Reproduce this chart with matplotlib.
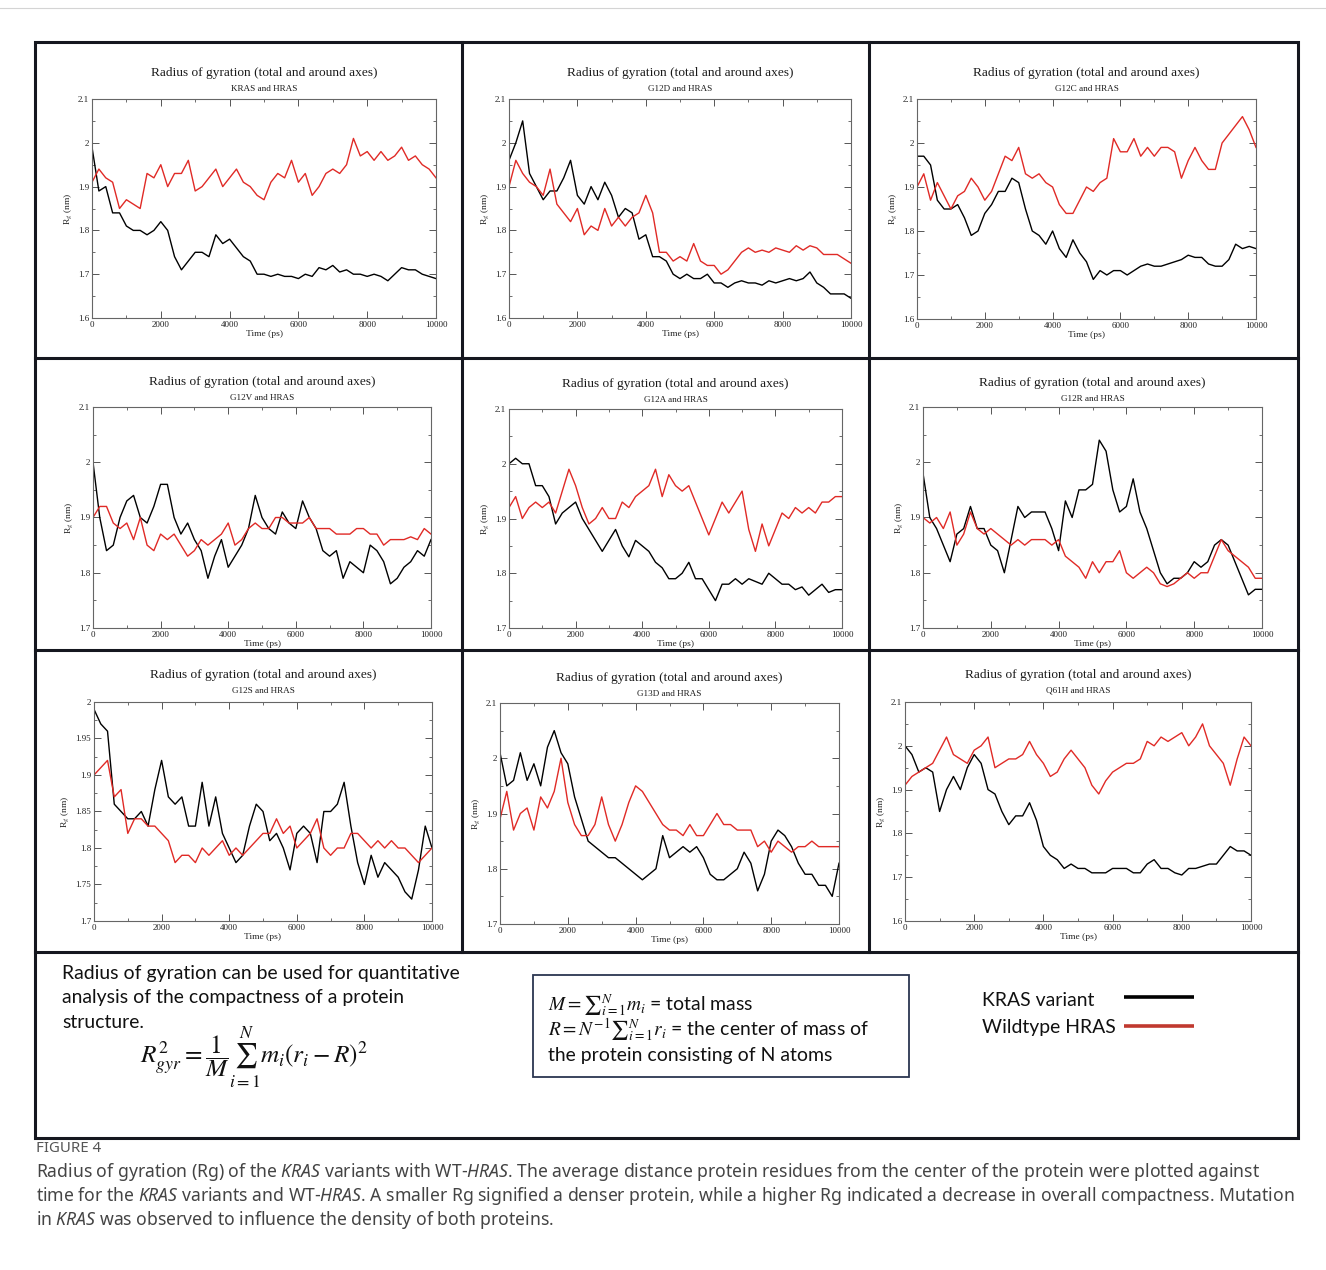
#!/usr/bin/env python3
'''
Radius of gyration of KRAS variants against wildtype HRAS (3x3 panel figure).
'''
import numpy as np
import matplotlib
matplotlib.use('Agg')
import matplotlib.pyplot as plt
from matplotlib.patches import Rectangle
from matplotlib.ticker import MultipleLocator, FuncFormatter

# sample times (ps), one value every 200 ps
time_ps = np.arange(0, 10001, 200)

variant_names = ['KRAS', 'G12D', 'G12C', 'G12V', 'G12A', 'G12R', 'G12S', 'G13D', 'Q61H']

# Rg (nm): KRAS variant (black) and wildtype HRAS (red)
kras_rg = [1.99, 1.89, 1.90, 1.84, 1.84, 1.81, 1.80, 1.80, 1.79, 1.80,
           1.82, 1.80, 1.74, 1.71, 1.73, 1.75, 1.75, 1.74, 1.79, 1.77,
           1.78, 1.76, 1.74, 1.73, 1.70, 1.70, 1.695, 1.70, 1.695, 1.695,
           1.69, 1.70, 1.695, 1.715, 1.71, 1.72, 1.705, 1.71, 1.70, 1.70,
           1.695, 1.70, 1.695, 1.685, 1.70, 1.715, 1.71, 1.71, 1.70, 1.695,
           1.69]
kras_hras_rg = [1.91, 1.94, 1.92, 1.91, 1.85, 1.87, 1.86, 1.85, 1.93, 1.92,
                1.95, 1.90, 1.93, 1.93, 1.96, 1.89, 1.90, 1.92, 1.94, 1.90,
                1.92, 1.94, 1.91, 1.90, 1.88, 1.87, 1.91, 1.93, 1.92, 1.96,
                1.91, 1.93, 1.88, 1.90, 1.93, 1.94, 1.93, 1.95, 2.01, 1.97,
                1.98, 1.96, 1.98, 1.96, 1.97, 1.99, 1.96, 1.97, 1.95, 1.94,
                1.92]

g12d_rg = [1.96, 2.00, 2.05, 1.93, 1.90, 1.87, 1.89, 1.89, 1.92, 1.96,
           1.88, 1.86, 1.90, 1.87, 1.91, 1.88, 1.83, 1.85, 1.84, 1.78,
           1.79, 1.74, 1.74, 1.73, 1.70, 1.69, 1.70, 1.69, 1.69, 1.70,
           1.68, 1.68, 1.67, 1.68, 1.685, 1.68, 1.68, 1.675, 1.685, 1.68,
           1.685, 1.69, 1.685, 1.69, 1.705, 1.68, 1.67, 1.655, 1.655, 1.655,
           1.645]
g12d_hras_rg = [1.90, 1.96, 1.93, 1.91, 1.90, 1.88, 1.94, 1.86, 1.84, 1.82,
                1.85, 1.79, 1.81, 1.80, 1.85, 1.81, 1.83, 1.81, 1.83, 1.84,
                1.88, 1.84, 1.75, 1.75, 1.73, 1.74, 1.73, 1.77, 1.73, 1.72,
                1.72, 1.70, 1.71, 1.73, 1.75, 1.76, 1.75, 1.755, 1.75, 1.76,
                1.755, 1.75, 1.765, 1.755, 1.765, 1.76, 1.745, 1.745, 1.745, 1.735,
                1.725]

g12c_rg = [1.97, 1.97, 1.95, 1.87, 1.85, 1.85, 1.86, 1.83, 1.79, 1.80,
           1.84, 1.86, 1.89, 1.89, 1.92, 1.91, 1.85, 1.80, 1.79, 1.77,
           1.80, 1.76, 1.74, 1.78, 1.75, 1.73, 1.69, 1.71, 1.70, 1.71,
           1.71, 1.70, 1.71, 1.72, 1.725, 1.72, 1.72, 1.725, 1.73, 1.735,
           1.745, 1.74, 1.74, 1.725, 1.72, 1.72, 1.735, 1.77, 1.76, 1.765,
           1.76]
g12c_hras_rg = [1.90, 1.93, 1.87, 1.91, 1.88, 1.85, 1.88, 1.89, 1.92, 1.90,
                1.87, 1.89, 1.93, 1.97, 1.96, 1.99, 1.93, 1.92, 1.93, 1.91,
                1.90, 1.86, 1.84, 1.84, 1.87, 1.90, 1.89, 1.91, 1.92, 2.01,
                1.98, 1.98, 2.01, 1.97, 1.99, 1.97, 1.99, 1.99, 1.98, 1.92,
                1.96, 1.99, 1.96, 1.94, 1.94, 2.00, 2.02, 2.04, 2.06, 2.03,
                1.99]

g12v_rg = [2.00, 1.90, 1.84, 1.85, 1.90, 1.93, 1.94, 1.90, 1.89, 1.92,
           1.96, 1.96, 1.90, 1.87, 1.89, 1.86, 1.84, 1.79, 1.83, 1.86,
           1.81, 1.83, 1.85, 1.88, 1.94, 1.90, 1.88, 1.87, 1.91, 1.89,
           1.88, 1.93, 1.90, 1.88, 1.84, 1.83, 1.84, 1.79, 1.82, 1.81,
           1.80, 1.85, 1.84, 1.82, 1.78, 1.79, 1.81, 1.82, 1.84, 1.83,
           1.86]
g12v_hras_rg = [1.90, 1.92, 1.92, 1.89, 1.88, 1.89, 1.86, 1.90, 1.85, 1.84,
                1.87, 1.86, 1.87, 1.85, 1.83, 1.84, 1.86, 1.85, 1.86, 1.87,
                1.89, 1.85, 1.86, 1.88, 1.89, 1.88, 1.88, 1.90, 1.90, 1.89,
                1.89, 1.89, 1.90, 1.88, 1.88, 1.88, 1.87, 1.87, 1.87, 1.88,
                1.88, 1.87, 1.87, 1.85, 1.86, 1.86, 1.86, 1.865, 1.86, 1.88,
                1.87]

g12a_rg = [2.00, 2.01, 2.00, 2.00, 1.96, 1.96, 1.94, 1.89, 1.91, 1.92,
           1.93, 1.90, 1.88, 1.86, 1.84, 1.86, 1.88, 1.85, 1.83, 1.86,
           1.85, 1.84, 1.82, 1.81, 1.79, 1.79, 1.80, 1.82, 1.79, 1.79,
           1.77, 1.75, 1.78, 1.78, 1.79, 1.78, 1.79, 1.785, 1.78, 1.80,
           1.79, 1.78, 1.78, 1.77, 1.775, 1.76, 1.77, 1.78, 1.765, 1.77,
           1.77]
g12a_hras_rg = [1.92, 1.94, 1.90, 1.92, 1.93, 1.92, 1.93, 1.91, 1.95, 1.99,
                1.96, 1.92, 1.89, 1.90, 1.92, 1.90, 1.90, 1.93, 1.92, 1.94,
                1.95, 1.96, 1.99, 1.94, 1.98, 1.96, 1.95, 1.96, 1.93, 1.90,
                1.87, 1.90, 1.93, 1.91, 1.93, 1.95, 1.88, 1.84, 1.89, 1.85,
                1.88, 1.91, 1.90, 1.92, 1.91, 1.92, 1.91, 1.93, 1.93, 1.94,
                1.94]

g12r_rg = [1.98, 1.90, 1.88, 1.85, 1.82, 1.87, 1.88, 1.92, 1.88, 1.88,
           1.85, 1.84, 1.80, 1.86, 1.92, 1.90, 1.91, 1.91, 1.91, 1.88,
           1.84, 1.93, 1.90, 1.95, 1.95, 1.96, 2.04, 2.02, 1.95, 1.91,
           1.92, 1.97, 1.91, 1.88, 1.84, 1.80, 1.78, 1.79, 1.79, 1.80,
           1.82, 1.81, 1.82, 1.85, 1.86, 1.85, 1.82, 1.79, 1.76, 1.77,
           1.77]
g12r_hras_rg = [1.90, 1.89, 1.90, 1.88, 1.91, 1.85, 1.87, 1.91, 1.88, 1.87,
                1.88, 1.87, 1.86, 1.85, 1.86, 1.85, 1.86, 1.86, 1.86, 1.85,
                1.86, 1.83, 1.82, 1.81, 1.79, 1.82, 1.80, 1.82, 1.82, 1.84,
                1.80, 1.79, 1.80, 1.81, 1.80, 1.78, 1.775, 1.78, 1.79, 1.80,
                1.79, 1.80, 1.80, 1.83, 1.86, 1.84, 1.83, 1.82, 1.81, 1.79,
                1.79]

g12s_rg = [1.99, 1.97, 1.96, 1.86, 1.85, 1.84, 1.84, 1.85, 1.83, 1.88,
           1.92, 1.87, 1.86, 1.87, 1.83, 1.83, 1.89, 1.83, 1.87, 1.82,
           1.80, 1.78, 1.79, 1.83, 1.86, 1.85, 1.81, 1.82, 1.80, 1.77,
           1.82, 1.83, 1.82, 1.78, 1.85, 1.85, 1.86, 1.89, 1.83, 1.78,
           1.75, 1.79, 1.76, 1.78, 1.77, 1.76, 1.74, 1.73, 1.77, 1.83,
           1.80]
g12s_hras_rg = [1.90, 1.91, 1.92, 1.87, 1.88, 1.82, 1.84, 1.84, 1.83, 1.83,
                1.82, 1.81, 1.78, 1.79, 1.79, 1.78, 1.80, 1.79, 1.80, 1.81,
                1.79, 1.80, 1.79, 1.80, 1.81, 1.82, 1.82, 1.84, 1.82, 1.83,
                1.80, 1.81, 1.82, 1.84, 1.80, 1.79, 1.80, 1.80, 1.82, 1.82,
                1.81, 1.80, 1.81, 1.80, 1.81, 1.80, 1.80, 1.79, 1.78, 1.79,
                1.80]

g13d_rg = [2.01, 1.95, 1.96, 2.01, 1.96, 1.99, 1.95, 2.02, 2.05, 2.01,
           1.99, 1.93, 1.89, 1.85, 1.84, 1.83, 1.82, 1.82, 1.81, 1.80,
           1.79, 1.78, 1.79, 1.80, 1.86, 1.82, 1.83, 1.84, 1.83, 1.84,
           1.82, 1.79, 1.78, 1.78, 1.79, 1.80, 1.83, 1.81, 1.76, 1.79,
           1.85, 1.87, 1.86, 1.84, 1.81, 1.79, 1.79, 1.77, 1.77, 1.75,
           1.81]
g13d_hras_rg = [1.89, 1.94, 1.87, 1.90, 1.91, 1.87, 1.93, 1.91, 1.94, 2.00,
                1.92, 1.88, 1.86, 1.86, 1.88, 1.93, 1.88, 1.85, 1.88, 1.92,
                1.95, 1.94, 1.92, 1.90, 1.88, 1.87, 1.87, 1.86, 1.88, 1.86,
                1.86, 1.88, 1.90, 1.88, 1.88, 1.87, 1.87, 1.87, 1.84, 1.85,
                1.83, 1.85, 1.84, 1.83, 1.84, 1.84, 1.85, 1.84, 1.84, 1.84,
                1.84]

q61h_rg = [2.00, 1.98, 1.94, 1.95, 1.94, 1.85, 1.90, 1.93, 1.90, 1.95,
           1.98, 1.96, 1.90, 1.89, 1.85, 1.82, 1.84, 1.84, 1.87, 1.83,
           1.77, 1.75, 1.74, 1.72, 1.73, 1.72, 1.72, 1.71, 1.71, 1.71,
           1.72, 1.72, 1.72, 1.71, 1.71, 1.73, 1.74, 1.72, 1.72, 1.71,
           1.705, 1.72, 1.72, 1.725, 1.73, 1.73, 1.75, 1.77, 1.76, 1.76,
           1.75]
q61h_hras_rg = [1.91, 1.93, 1.94, 1.95, 1.96, 1.99, 2.02, 1.98, 1.97, 1.96,
                1.99, 2.00, 2.02, 1.95, 1.96, 1.97, 1.97, 1.98, 2.01, 1.98,
                1.96, 1.93, 1.94, 1.97, 1.99, 1.97, 1.95, 1.91, 1.89, 1.92,
                1.94, 1.95, 1.96, 1.96, 1.97, 2.01, 2.00, 2.02, 2.01, 2.02,
                2.03, 2.00, 2.02, 2.05, 2.00, 1.98, 1.96, 1.91, 1.97, 2.02,
                2.00]

variant_series = [kras_rg, g12d_rg, g12c_rg, g12v_rg, g12a_rg,
                  g12r_rg, g12s_rg, g13d_rg, q61h_rg]
hras_series = [kras_hras_rg, g12d_hras_rg, g12c_hras_rg, g12v_hras_rg, g12a_hras_rg,
               g12r_hras_rg, g12s_hras_rg, g13d_hras_rg, q61h_hras_rg]

# ---- layout (pixels of the 1326x1270 canvas) ----
W, H = 1326, 1270
panel_boxes = [(92, 99, 436, 318), (509, 99, 851, 318), (917, 99, 1256, 319),
               (93, 407, 431, 628), (509, 409, 842, 628), (923, 407, 1262, 628),
               (94, 702, 432, 921), (500, 703, 839, 924), (905, 702, 1251, 921)]
title_y = [73, 73, 73, 382, 384, 383, 675, 678, 675]
y_limits = [(1.6, 2.1), (1.6, 2.1), (1.6, 2.1), (1.7, 2.1), (1.7, 2.1),
            (1.7, 2.1), (1.7, 2.0), (1.7, 2.1), (1.6, 2.1)]
y_steps = [0.1, 0.1, 0.1, 0.1, 0.1, 0.1, 0.05, 0.1, 0.1]

RED = '#e02a26'
FRAME = '#15171f'
SERIF = 'Liberation Serif'

plt.rcParams['mathtext.fontset'] = 'custom'
plt.rcParams['mathtext.rm'] = 'Noto Sans'
plt.rcParams['mathtext.it'] = 'Noto Sans:italic'
plt.rcParams['mathtext.bf'] = 'Noto Sans:bold'

fig = plt.figure(figsize=(W / 100, H / 100), dpi=100)
bg = fig.add_axes([0, 0, 1, 1])
bg.set_xlim(0, W)
bg.set_ylim(H, 0)
bg.axis('off')


def fit_width(txt, width_px):
    '''Scale a text's font size so it spans width_px.'''
    w = txt.get_window_extent(fig.canvas.get_renderer()).width
    txt.set_fontsize(txt.get_fontsize() * width_px / w)
    return txt.get_fontsize()


# frame of the figure grid
bg.plot([0, W], [8, 8], color='#d4d4d4', lw=0.8)
bg.add_patch(Rectangle((35, 42), 1263, 1096, fill=False, ec=FRAME, lw=2.2))
for y in (358, 650, 952):
    bg.plot([35, 1298], [y, y], color=FRAME, lw=2.2)
for x in (462, 869):
    bg.plot([x, x], [42, 952], color=FRAME, lw=2.2)

fmt = FuncFormatter(lambda v, p: f'{v:g}')

for i, name in enumerate(variant_names):
    l, t, r, b = panel_boxes[i]
    ax = fig.add_axes([l / W, 1 - b / H, (r - l) / W, (b - t) / H])
    ax.plot(time_ps, variant_series[i], color='black', lw=1.0)
    ax.plot(time_ps, hras_series[i], color=RED, lw=1.0)
    ax.set_xlim(0, 10000)
    ax.set_ylim(*y_limits[i])
    ax.xaxis.set_major_locator(MultipleLocator(2000))
    ax.xaxis.set_minor_locator(MultipleLocator(1000))
    ax.yaxis.set_major_locator(MultipleLocator(y_steps[i]))
    ax.yaxis.set_minor_locator(MultipleLocator(y_steps[i] / 2))
    ax.xaxis.set_major_formatter(fmt)
    ax.yaxis.set_major_formatter(fmt)
    ax.tick_params(which='both', direction='in', top=True, right=True,
                   labelsize=6.5, pad=2, color='#555555', labelcolor='#222222')
    ax.tick_params(which='major', length=5, width=0.7)
    ax.tick_params(which='minor', length=2.5, width=0.6)
    for lab in ax.get_xticklabels() + ax.get_yticklabels():
        lab.set_family(SERIF)
    for sp in ax.spines.values():
        sp.set_color('#666666')
        sp.set_linewidth(0.8)
    ax.set_xlabel('Time (ps)', fontsize=6.8, family=SERIF, labelpad=1, color='#222222')
    ax.set_ylabel(r'R$_g$ (nm)', fontsize=6.8, family=SERIF, labelpad=3,
                  color='#222222', math_fontfamily='stix')
    cx = (l + r) / 2
    bg.text(cx, title_y[i], 'Radius of gyration (total and around axes)',
            ha='center', va='center', fontsize=9.6, family=SERIF, color='#1a1a1a')
    bg.text(cx, title_y[i] + 16, f'{name} and HRAS', ha='center', va='center',
            fontsize=6.6, family=SERIF, color='#1a1a1a')

# ---- explanation box below the panels ----
note = ['Radius of gyration can be used for quantitative',
        'analysis of the compactness of a protein',
        'structure.']
t0 = bg.text(62, 973, note[0], ha='left', va='center', family='Lato', fontsize=13,
             color='#111111')
fs = fit_width(t0, 397)
for k, line in enumerate(note[1:], start=1):
    bg.text(62, 973 + 25 * k, line, ha='left', va='center', family='Lato',
            fontsize=fs, color='#111111')

eq = bg.text(140, 1058, r'$R_{gyr}^{2} = \dfrac{1}{M}\sum_{i=1}^{N} m_i (r_i - R)^2$',
             ha='left', va='center', fontsize=14, math_fontfamily='stix',
             color='#111111')
fit_width(eq, 230)

bg.add_patch(Rectangle((533, 975), 376, 102, fill=False, ec='#2b3650', lw=1.3))
b3 = bg.text(548, 1056, 'the protein consisting of N atoms', ha='left', va='center',
             family='Lato', fontsize=13, color='#111111')
bfs = fit_width(b3, 284)
bg.text(548, 1005, r'$M = ∑_{i=1}^{N} m_i$ = total mass', ha='left', va='center',
        family='Lato', fontsize=bfs, math_fontfamily='stix', color='#111111')
bg.text(548, 1030, r'$R = N^{-1}∑_{i=1}^{N} r_i$ = the center of mass of', ha='left',
        va='center', family='Lato', fontsize=bfs, math_fontfamily='stix', color='#111111')

# legend
bg.text(982, 1001, 'KRAS variant', ha='left', va='center', family='Lato',
        fontsize=bfs, color='#111111')
bg.text(982, 1027, 'Wildtype HRAS', ha='left', va='center', family='Lato',
        fontsize=bfs, color='#111111')
bg.plot([1124, 1194], [997, 997], color='black', lw=2.6, solid_capstyle='butt')
bg.plot([1124, 1194], [1026, 1026], color='#c0392f', lw=2.6, solid_capstyle='butt')

# ---- caption ----
fig_lab = bg.text(36, 1148, 'FIGURE 4', ha='left', va='center', family='Noto Sans',
                  fontsize=9, color='#555555')
fit_width(fig_lab, 65)
caption = [r'Radius of gyration (Rg) of the $\mathit{KRAS}$ variants with WT-$\mathit{HRAS}$. '
           r'The average distance protein residues from the center of the protein were plotted against',
           r'time for the $\mathit{KRAS}$ variants and WT-$\mathit{HRAS}$. A smaller Rg signified a '
           r'denser protein, while a higher Rg indicated a decrease in overall compactness. Mutation',
           r'in $\mathit{KRAS}$ was observed to influence the density of both proteins.']
c1 = bg.text(36, 1172, caption[1], ha='left', va='center', family='Noto Sans',
             fontsize=11, color='#444444')
cfs = fit_width(c1, 1260)
c1.set_y(1196)
for k in (0, 2):
    bg.text(36, 1172 + 24 * k, caption[k], ha='left', va='center', family='Noto Sans',
            fontsize=cfs, color='#444444')

fig.savefig('out.png', dpi=100)
